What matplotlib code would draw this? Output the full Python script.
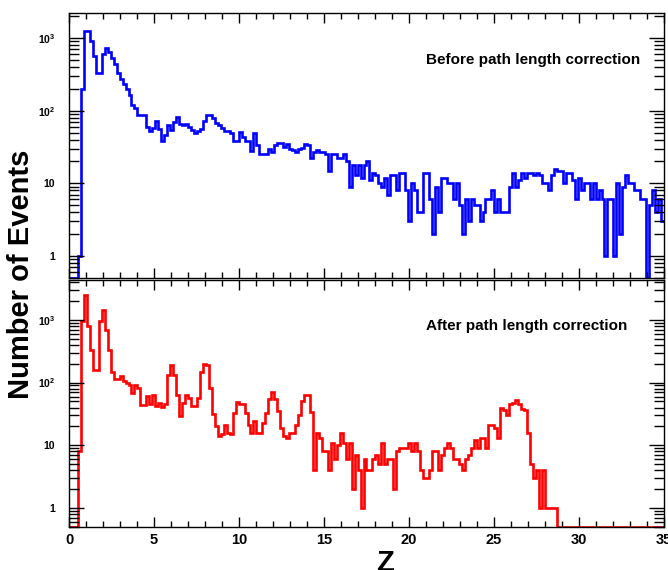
import numpy as np
import matplotlib
matplotlib.use("Agg")
import matplotlib.pyplot as plt
from matplotlib.ticker import FixedLocator, FixedFormatter, MultipleLocator, LogLocator, NullFormatter

plt.rcParams["font.family"] = ["Liberation Sans", "DejaVu Sans"]
plt.rcParams["font.weight"] = "bold"
plt.rcParams["mathtext.fontset"] = "custom"
plt.rcParams["mathtext.rm"] = "Liberation Sans:bold"
plt.rcParams["mathtext.bf"] = "Liberation Sans:bold"

# Z histogram: 200 bins over [0, 35]
Z_MIN, Z_MAX, N_BINS = 0.0, 35.0, 200

counts_before = [
    0, 0, 0, 1, 200, 1250, 1250, 910, 560, 330,
    330, 610, 720, 630, 525, 440, 330, 270, 230, 200,
    166, 120, 110, 88, 88, 88, 60, 53, 58, 71,
    56, 38, 46, 64, 55, 69, 81, 66, 64, 65,
    59, 55, 49, 52, 56, 71, 88, 86, 79, 67,
    64, 58, 52, 52, 49, 38, 38, 51, 44, 38,
    38, 28, 49, 34, 25, 25, 25, 30, 27, 34,
    36, 36, 32, 35, 30, 29, 27, 30, 31, 35,
    34, 22, 27, 29, 27, 27, 25, 15, 25, 25,
    22, 22, 25, 20, 9, 18, 13, 18, 12, 18,
    20, 11, 14, 13, 10, 9, 12, 7, 13, 13,
    8, 14, 14, 8, 3, 10, 8, 4, 4, 14,
    14, 6, 2, 9, 4, 12, 12, 10, 10, 6,
    10, 5, 2, 6, 3, 6, 5, 5, 3, 4,
    6, 6, 8, 4, 6, 4, 4, 4, 9, 14,
    9, 11, 14, 12, 14, 14, 13, 14, 13, 10,
    10, 8, 13, 16, 15, 15, 10, 14, 14, 11,
    6, 12, 8, 10, 10, 6, 10, 6, 8, 6,
    1, 6, 6, 1, 10, 2, 9, 13, 10, 10,
    8, 8, 6, 6, 0, 5, 8, 4, 6, 3,
]

counts_after = [
    0, 0, 0, 8, 940, 2450, 790, 334, 156, 156,
    940, 1430, 690, 334, 150, 114, 114, 126, 105, 100,
    93, 68, 90, 82, 44, 44, 61, 46, 63, 42,
    47, 41, 46, 134, 189, 134, 63, 29, 47, 63,
    57, 42, 42, 57, 147, 197, 189, 82, 32, 20,
    14, 15, 21, 16, 15, 33, 49, 46, 46, 33,
    21, 16, 24, 16, 16, 23, 33, 55, 71, 54,
    35, 19, 14, 13, 16, 16, 21, 30, 50, 64,
    64, 34, 4, 16, 13, 8, 8, 4, 11, 6,
    10, 16, 11, 6, 11, 2, 7, 4, 1, 6,
    4, 4, 6, 7, 5, 11, 5, 6, 6, 2,
    8, 9, 9, 9, 11, 8, 11, 8, 4, 3,
    3, 4, 8, 8, 4, 7, 9, 11, 9, 6,
    6, 5, 4, 6, 7, 9, 12, 9, 13, 13,
    9, 21, 21, 19, 13, 40, 37, 30, 45, 47,
    52, 45, 38, 37, 16, 5, 3, 4, 1, 4,
    1, 1, 1, 1, 0, 0, 0, 0, 0, 0,
    0, 0, 0, 0, 0, 0, 0, 0, 0, 0,
    0, 0, 0, 0, 0, 0, 0, 0, 0, 0,
    0, 0, 0, 0, 0, 0, 0, 0, 0, 0,
]

y_ticks = [1, 10, 100, 1000]
y_tick_labels = ["1", "10", r"$10^{2}$", r"$10^{3}$"]
x_ticks = [0, 5, 10, 15, 20, 25, 30, 35]

edges = np.linspace(Z_MIN, Z_MAX, N_BINS + 1)

fig = plt.figure(figsize=(6.68, 5.70), dpi=100)
ax_top = fig.add_axes([0.1033, 0.5123, 0.8907, 0.4649])
ax_bot = fig.add_axes([0.1033, 0.0754, 0.8907, 0.4333])


def draw_panel(ax, counts, color, ylim, title, title_xy, show_x):
    # empty bins sit on the lower edge, as on a ROOT log axis
    vals = np.clip(np.asarray(counts, dtype=float), ylim[0], None)
    ax.stairs(vals, edges, baseline=None, color=color, lw=1.9)
    ax.set_yscale("log")
    ax.set_xlim(Z_MIN, Z_MAX)
    ax.set_ylim(*ylim)

    ax.xaxis.set_major_locator(FixedLocator(x_ticks))
    ax.xaxis.set_minor_locator(MultipleLocator(1))
    ax.yaxis.set_major_locator(FixedLocator(y_ticks))
    ax.yaxis.set_major_formatter(FixedFormatter(y_tick_labels))
    ax.yaxis.set_minor_locator(LogLocator(base=10, subs=np.arange(2, 10)))
    ax.yaxis.set_minor_formatter(NullFormatter())

    ax.tick_params(which="both", direction="in", top=True, right=True, width=1.0)
    ax.tick_params(axis="x", which="major", length=7, labelsize=10.5, pad=4,
                   labelbottom=show_x)
    ax.tick_params(axis="x", which="minor", length=4)
    ax.tick_params(axis="y", which="major", length=11, labelsize=7.5, pad=10)
    ax.tick_params(axis="y", which="minor", length=7)
    for s in ax.spines.values():
        s.set_linewidth(1.0)

    ax.text(title_xy[0], title_xy[1], title, transform=ax.transAxes,
            ha="right", va="center", fontsize=11, fontweight="bold")


draw_panel(ax_top, counts_before, "#0000ff", (0.5, 2200),
           "Before path length correction", (0.96, 0.823), False)
draw_panel(ax_bot, counts_after, "#ff0000", (0.5, 4300),
           "After path length correction", (0.938, 0.814), True)

fig.text(21 / 668, 0.518, "Number of Events", rotation=90, ha="center",
         va="center", fontsize=21, fontweight="bold")
fig.text(385 / 668, 1 - 563 / 570, "Z", ha="center", va="center",
         fontsize=21, fontweight="bold")

fig.savefig("out.png", dpi=100)
